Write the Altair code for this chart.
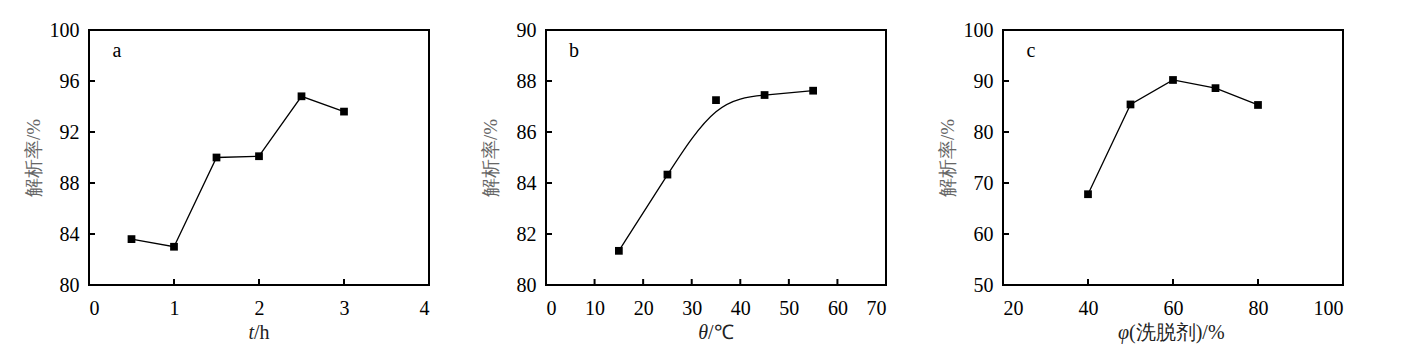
import altair as alt
import pandas as pd

# ---- data ----
t_h = [0.5, 1.0, 1.5, 2.0, 2.5, 3.0]
rate_a = [83.6, 83.0, 90.0, 90.1, 94.8, 93.6]

temp_c = [15, 25, 35, 45, 55]
rate_b = [81.34, 84.33, 87.25, 87.45, 87.62]

phi_pct = [40, 50, 60, 70, 80]
rate_c = [67.8, 85.4, 90.2, 88.6, 85.3]

xticks_a = [0, 1, 2, 3, 4]
yticks_a = [80, 84, 88, 92, 96, 100]
xticks_b = [0, 10, 20, 30, 40, 50, 60, 70]
yticks_b = [80, 82, 84, 86, 88, 90]
xticks_c = [20, 40, 60, 80, 100]
yticks_c = [50, 60, 70, 80, 90, 100]

W, H = 340, 255
FONT = "Liberation Serif"
YTITLE = "解析率/%"
FS = 20


def panel(xs, ys, xticks, yticks, letter, ital, rest, split, interp):
    df = pd.DataFrame({"x": xs, "y": ys})
    xs_scale = alt.Scale(domain=[xticks[0], xticks[-1]], nice=False, zero=False)
    ys_scale = alt.Scale(domain=[yticks[0], yticks[-1]], nice=False, zero=False)
    xenc = alt.X("x:Q", scale=xs_scale,
                 axis=alt.Axis(values=xticks, format="d", domain=False, ticks=False, grid=False,
                               labelFont=FONT, labelFontSize=FS, labelColor="black",
                               labelPadding=13, title=None))
    yenc = alt.Y("y:Q", scale=ys_scale,
                 axis=alt.Axis(values=yticks, format="d", domain=False, ticks=False, grid=False,
                               labelFont=FONT, labelFontSize=FS, labelColor="black",
                               labelPadding=10, minExtent=40, maxExtent=40,
                               title=YTITLE, titleFont=FONT, titleFontSize=19,
                               titleFontWeight="normal", titleColor="#666666",
                               titlePadding=6))
    base = alt.Chart(df)
    line = base.mark_line(color="black", strokeWidth=1.3, interpolate=interp).encode(x=xenc, y=yenc)
    pts = base.mark_square(color="black", size=60, opacity=1).encode(x="x:Q", y="y:Q")

    frame = alt.Chart(pd.DataFrame({"f": [0]})).mark_rect(
        fill="transparent", stroke="black", strokeWidth=2
    ).encode(x=alt.value(0), x2=alt.value(W), y=alt.value(0), y2=alt.value(H))

    yt = pd.DataFrame({"y": yticks[1:-1]})
    xt = pd.DataFrame({"x": xticks[1:-1]})
    ytick = alt.Chart(yt).mark_rule(color="black", strokeWidth=2).encode(
        y="y:Q", x=alt.value(0), x2=alt.value(6))
    xtick = alt.Chart(xt).mark_rule(color="black", strokeWidth=2).encode(
        x="x:Q", y=alt.value(H), y2=alt.value(H - 6))

    lab = alt.Chart(pd.DataFrame({"t": [letter]})).mark_text(
        font=FONT, fontSize=FS, color="black", baseline="middle", align="center"
    ).encode(text="t:N", x=alt.value(28), y=alt.value(21))

    t1 = alt.Chart(pd.DataFrame({"t": [ital]})).mark_text(
        font=FONT, fontSize=FS, fontStyle="italic", color="#222222",
        baseline="middle", align="right"
    ).encode(text="t:N", x=alt.value(W / 2 + split), y=alt.value(H + 48))
    t2 = alt.Chart(pd.DataFrame({"t": [rest]})).mark_text(
        font=FONT, fontSize=FS, color="#222222", baseline="middle", align="left"
    ).encode(text="t:N", x=alt.value(W / 2 + split), y=alt.value(H + 48))

    return alt.layer(line, pts, frame, ytick, xtick, lab, t1, t2).properties(
        width=W, height=H)


pa = panel(t_h, rate_a, xticks_a, yticks_a, "a", "t", "/h", -5, "linear")
pb = panel(temp_c, rate_b, xticks_b, yticks_b, "b", "θ", "/℃", -8, "basis")
pc = panel(phi_pct, rate_c, xticks_c, yticks_c, "c", "φ", "(洗脱剂)/%", -44, "linear")

chart = alt.hconcat(pa, pb, pc).properties(
    bounds="flush", spacing=117,
    padding={"left": 16, "top": 12, "right": 5, "bottom": 5}
).configure(background="white", font=FONT).configure_view(strokeOpacity=0)

chart.save("out.html", embed_options={"renderer": "svg", "actions": False})
